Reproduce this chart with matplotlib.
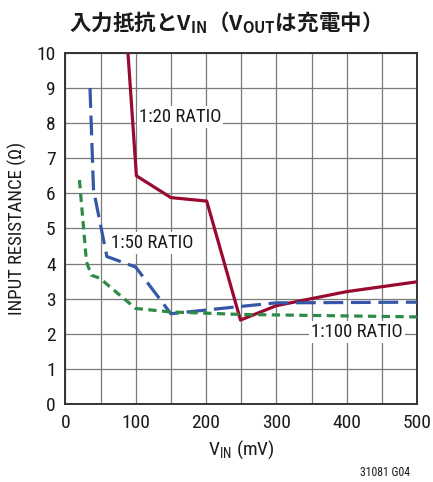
import matplotlib
matplotlib.use("Agg")
import matplotlib.pyplot as plt
from matplotlib import font_manager
from matplotlib.ticker import MultipleLocator

# ---- data ----
x_ticks = [0, 100, 200, 300, 400, 500]
y_ticks = list(range(0, 11))

r20_x = [89, 101, 150, 201, 249, 300, 400, 500]
r20_y = [10.0, 6.5, 5.88, 5.78, 2.39, 2.8, 3.2, 3.48]

r50_x = [35, 40, 59, 100, 150, 250, 300, 500]
r50_y = [9.0, 6.1, 4.2, 3.9, 2.57, 2.78, 2.88, 2.9]

r100_x = [20, 30, 37, 49, 100, 150, 250, 500]
r100_y = [6.38, 4.05, 3.67, 3.58, 2.72, 2.62, 2.55, 2.48]

labels = ["1:20 RATIO", "1:50 RATIO", "1:100 RATIO"]
label_pos = [(163, 8.18), (123, 4.59), (415, 2.06)]

# ---- fonts ----
names = {f.name for f in font_manager.fontManager.ttflist}
narrow = "Roboto"
for cand in ["Roboto Condensed", "Liberation Sans Narrow", "Open Sans Condensed", "Roboto"]:
    if cand in names:
        narrow = cand
        break
plt.rcParams['font.family'] = [narrow, 'DejaVu Sans']
plt.rcParams['mathtext.fontset'] = 'custom'
plt.rcParams['mathtext.bf'] = 'Noto Sans CJK JP:bold'
plt.rcParams['mathtext.rm'] = narrow

fig = plt.figure(figsize=(4.33, 4.82), dpi=100)
ax = fig.add_axes([0.151, 0.162, 0.812, 0.728])

red = '#990a30'
blue = '#3657a8'
green = '#2e8b47'

ax.plot(r20_x, r20_y, color=red, lw=2.3, solid_capstyle='butt', zorder=3)
ax.plot(r50_x, r50_y, color=blue, lw=2.3, dashes=(6.2, 2.4), zorder=3)
ax.plot(r100_x, r100_y, color=green, lw=2.3, dashes=(2.6, 1.7), zorder=3)

ax.set_xlim(0, 500)
ax.set_ylim(0, 10)
ax.xaxis.set_major_locator(MultipleLocator(100))
ax.xaxis.set_minor_locator(MultipleLocator(50))
ax.yaxis.set_major_locator(MultipleLocator(1))
ax.grid(True, which='both', color='#7a7a7a', lw=0.9)
ax.set_axisbelow(True)
ax.tick_params(which='both', length=0, labelsize=14, pad=7, colors='#1a1a1a')
for s in ax.spines.values():
    s.set_linewidth(1.4)
    s.set_color('#333333')

for t, (lx, ly) in zip(labels, label_pos):
    ax.text(lx, ly, t, ha='center', va='center', fontsize=13.5, color='#1a1a1a', zorder=4,
            bbox=dict(facecolor='white', edgecolor='none', pad=1.5))

ax.set_xlabel(r"V$_{\mathregular{IN}}$ (mV)", fontsize=14, labelpad=5, color='#1a1a1a')
ax.set_ylabel(u"INPUT RESISTANCE (\u03a9)", fontsize=13.5, labelpad=7, color='#1a1a1a')

fig.text(0.508, 0.953, u"入力抵抗とV$_{\\mathbf{IN}}$（V$_{\\mathbf{OUT}}$は充電中）",
         ha='center', va='center', fontsize=15.5, fontweight='bold',
         family='Noto Sans CJK JP', color='#1a1a1a')

fig.text(0.947, 0.006, "31081 G04", ha='right', va='bottom', fontsize=8.5, color='#1a1a1a')

fig.savefig("out.png", dpi=100)
